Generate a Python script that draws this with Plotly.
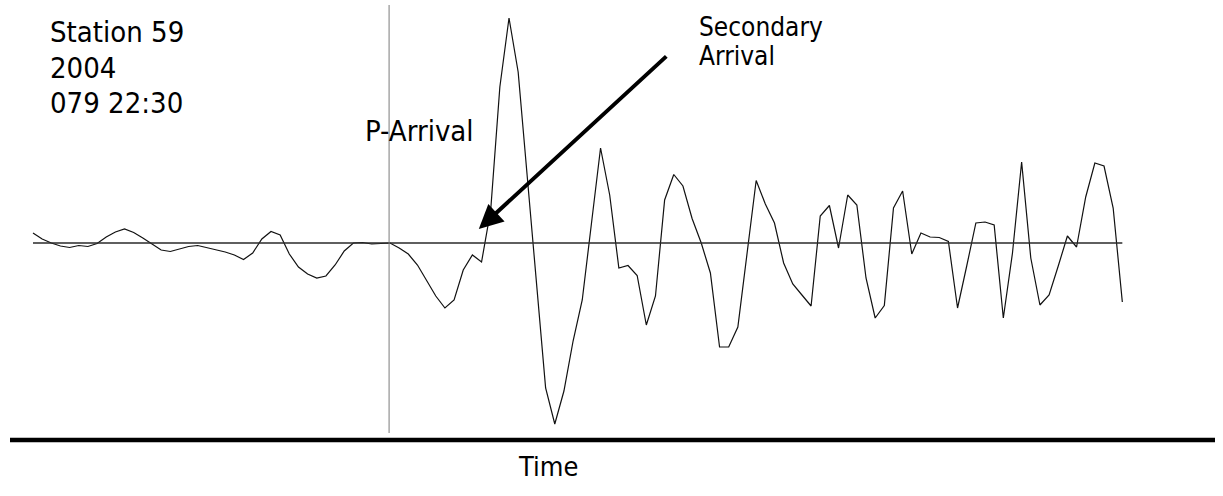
import plotly.graph_objects as go

# Seismogram samples (sample index) and amplitude (arbitrary counts)
sample = list(range(120))
amplitude = [
    10, 4, 0, -3, -4.5, -2.5, -3.5, -0.5, 6, 11,
    14, 10.5, 5, -1, -7, -8.5, -6, -3.5, -2.5, -4.5,
    -7, -9, -12, -16.5, -10, 4, 11.5, 8, -11, -24,
    -31, -35, -33, -22, -8, 0, 0.5, -1, -0.5, 0,
    -5, -11, -22, -38, -53, -65, -57, -27, -12, -19,
    33, 156, 225, 171, 66, -40, -145, -181, -148, -98,
    -57, 19, 95, 48, -25, -22.5, -32.5, -82, -53, 43,
    68.5, 57, 24.5, 0, -30, -104, -104, -84, -9, 62.5,
    39, 20, -20, -41, -52, -63, 27, 37.5, -5, 48,
    38, -35, -75, -62.5, 35, 52, -11, 10, 6, 5.5,
    1.5, -65, -23, 20, 21, 18, -75, -10, 81, -15,
    -62, -52, -23, 7, -4, 46, 80, 77, 35, -59,
]
p_arrival = 38.9
secondary_arrival = (48.7, 14)
station_lines = ["Station 59", "2004", "079 22:30"]

W, H = 1223, 496
FONT = "DejaVu Sans Condensed, Roboto, sans-serif"

fig = go.Figure()
fig.add_trace(go.Scatter(x=sample, y=amplitude, mode="lines",
                         line=dict(color="#111111", width=1.2), hoverinfo="skip"))

# zero baseline
fig.add_shape(type="line", xref="x", yref="y", x0=sample[0], x1=sample[-1], y0=0, y1=0,
              line=dict(color="#2a2a2a", width=1.5))
# P-arrival marker
fig.add_shape(type="line", xref="x", yref="y", x0=p_arrival, x1=p_arrival, y0=238, y1=-190,
              line=dict(color="#7a7a7a", width=1))
# time axis (thick line)
fig.add_shape(type="line", xref="paper", yref="paper", x0=10 / W, x1=1215 / W,
              y0=1 - 440 / H, y1=1 - 440 / H, line=dict(color="black", width=4.5))

def px(x):
    return x / W

def py(y):
    return 1 - y / H

for i, txt in enumerate(station_lines):
    fig.add_annotation(x=px(48), y=py(32 + 35.5 * i), xref="paper", yref="paper",
                       text=txt, showarrow=False, xanchor="left", yanchor="middle",
                       font=dict(family=FONT, size=29, color="black"))

fig.add_annotation(x=px(363), y=py(131), xref="paper", yref="paper", text="P-Arrival",
                   showarrow=False, xanchor="left", yanchor="middle",
                   font=dict(family=FONT, size=29, color="black"))
fig.add_annotation(x=px(697), y=py(27), xref="paper", yref="paper", text="Secondary",
                   showarrow=False, xanchor="left", yanchor="middle",
                   font=dict(family=FONT, size=26, color="black"))
fig.add_annotation(x=px(697), y=py(56), xref="paper", yref="paper", text="Arrival",
                   showarrow=False, xanchor="left", yanchor="middle",
                   font=dict(family=FONT, size=26, color="black"))
fig.add_annotation(x=px(548), y=py(466), xref="paper", yref="paper", text="Time",
                   showarrow=False, xanchor="center", yanchor="middle",
                   font=dict(family=FONT, size=27, color="black"))

# arrow to secondary arrival
fig.add_annotation(x=secondary_arrival[0], y=secondary_arrival[1], xref="x", yref="y",
                   text="", showarrow=True, ax=189, ay=-174, arrowhead=2, arrowsize=1.2,
                   arrowwidth=4, arrowcolor="black", standoff=0)

dx = 9.154
fig.update_layout(
    width=W, height=H, margin=dict(l=0, r=0, t=0, b=0),
    paper_bgcolor="white", plot_bgcolor="white", showlegend=False,
    xaxis=dict(range=[-33 / dx, (W - 33) / dx], visible=False, fixedrange=True),
    yaxis=dict(range=[243 - H, 243], visible=False, fixedrange=True),
)
fig.write_html("out.html")
